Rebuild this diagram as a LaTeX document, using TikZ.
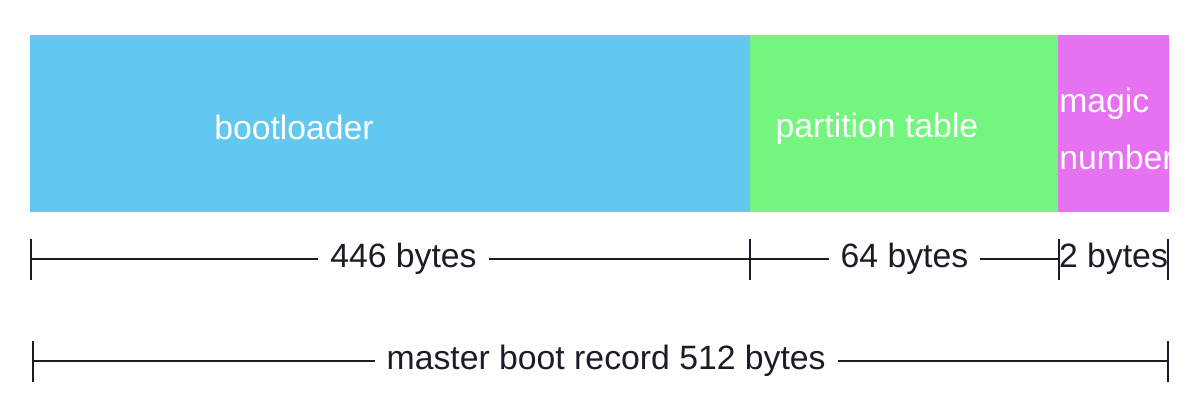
\documentclass[tikz,border=0pt]{standalone}
\usepackage{fontspec}
\setmainfont{Liberation Sans}
\usetikzlibrary{positioning}
\definecolor{bootblue}{HTML}{62C8F0}
\definecolor{ptabgreen}{HTML}{74F57F}
\definecolor{magicpink}{HTML}{E672F2}
\definecolor{inkdark}{HTML}{1C1C26}

\begin{document}
\begin{tikzpicture}[x=0.025cm,y=-0.025cm,
  every node/.style={font=\fontsize{24}{41}\selectfont},
  part/.style={minimum height=4.425cm,inner sep=0,outer sep=0},
  seglabel/.style={text=white},
  dimlabel/.style={fill=white,text=inkdark,inner ysep=0,inner xsep=0.3cm},
  tick/.style={draw=inkdark,line width=1.4pt}]
\useasboundingbox (0,0) rectangle (1200,413);
\node[part,fill=bootblue,minimum width=18cm,anchor=north west] (boot) at (30,35) {};
\node[part,fill=ptabgreen,minimum width=7.7cm,right=0pt of boot] (ptab) {};
\node[part,fill=magicpink,minimum width=2.775cm,right=0pt of ptab] (magic) {};
\node[seglabel] (bootlbl) at (294,127) {bootloader};
\node[seglabel] (ptablbl) at (877,129) {partition table};
\node[seglabel,anchor=west,align=left,inner sep=0] (magiclbl) at (1059,129) {magic\\number};
% sizes of the parts
\coordinate (t0) at (31,259);
\coordinate (t1) at (750,259);
\coordinate (t2) at (1059,259);
\coordinate (t3) at (1168,259);
\draw[tick] (t0) -- node[dimlabel,pos=0.518] (d446) {446 bytes} (t1)
  -- node[dimlabel] (d64) {64 bytes} (t2)
  -- node[dimlabel,inner xsep=0] (d2) {2 bytes} (t3);
\foreach \t in {t0,t1,t2,t3}
  \draw[tick] (\t) ++(0,-20) -- ++(0,41);
% whole record
\coordinate (b0) at (33,361);
\coordinate (b1) at (1168,361);
\draw[tick] (b0) -- node[dimlabel,pos=0.505] (d512) {master boot record 512 bytes} (b1);
\foreach \t in {b0,b1}
  \draw[tick] (\t) ++(0,-20) -- ++(0,41);
\end{tikzpicture}
\end{document}
